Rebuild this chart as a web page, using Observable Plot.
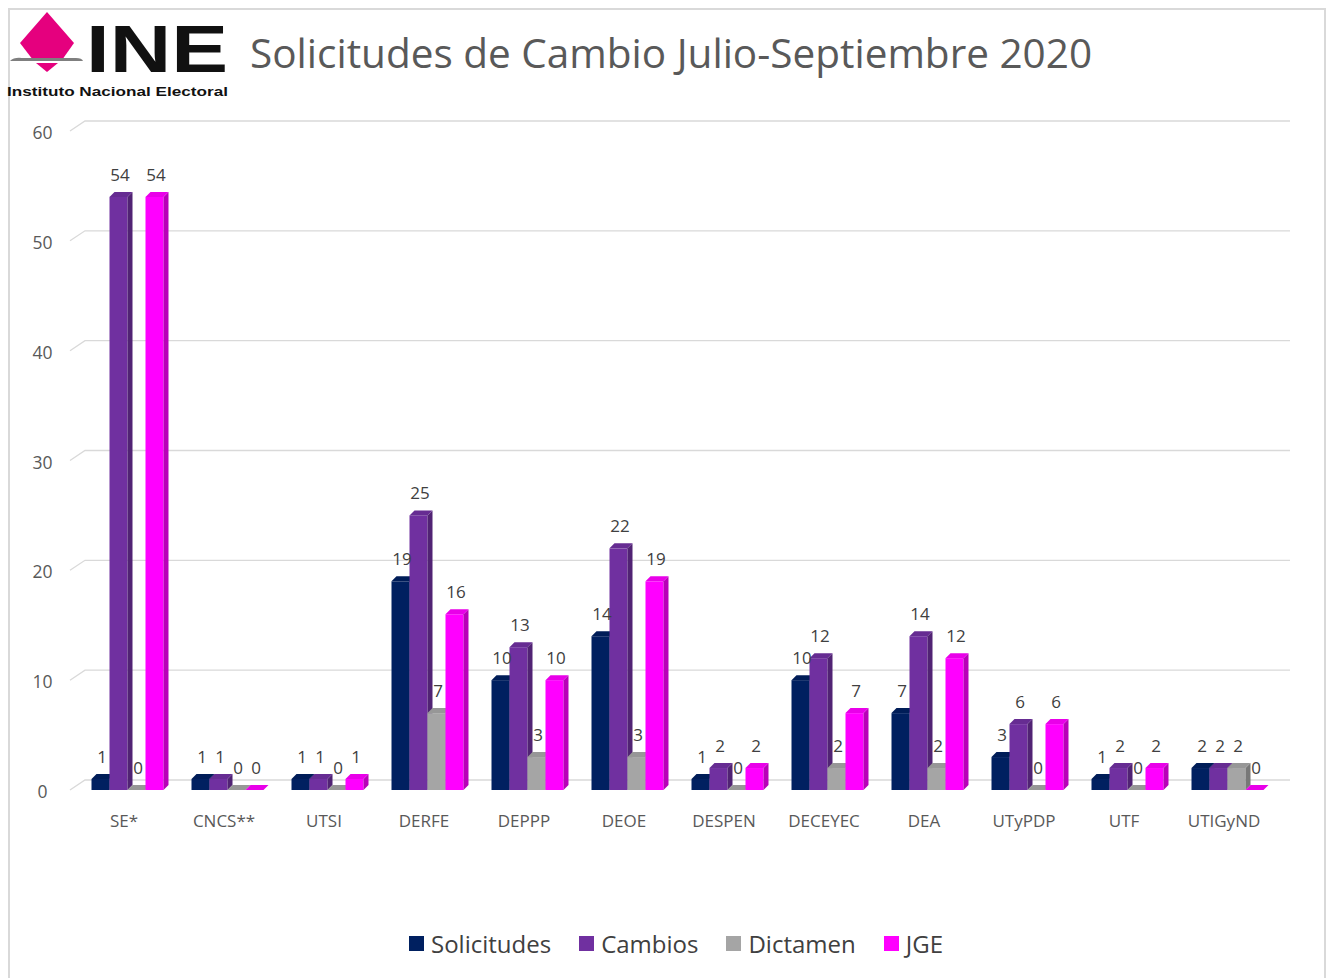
<!DOCTYPE html>
<html>
<head>
<meta charset="utf-8">
<script src="https://cdn.jsdelivr.net/npm/d3@7"></script>
<script src="https://cdn.jsdelivr.net/npm/@observablehq/plot@0.6"></script>
<style>
  html, body { margin: 0; padding: 0; background: #fff; }
  #page { position: relative; width: 1331px; height: 978px; overflow: hidden; font-family: "Open Sans", sans-serif; }
  #frame { position: absolute; left: 8px; top: 8px; width: 1318px; height: 975px; border: 2px solid #d9d9d9; box-sizing: border-box; }
  #title { position: absolute; left: 250px; top: 25px; font-size: 40.5px; color: #595959; white-space: nowrap; }
  #logo { position: absolute; left: 0; top: 0; }
  #chart { position: absolute; left: 0; top: 100px; }
  #legend { position: absolute; top: 927px; left: 0; width: 1352px; display: flex; justify-content: center; gap: 28px; font-size: 24px; color: #404040; }
  #legend .item { display: flex; align-items: center; gap: 7px; }
  #legend .sw { width: 15px; height: 15px; display: inline-block; }
</style>
</head>
<body>
<div id="page">
  <div id="frame"></div>
  <svg id="logo" width="240" height="100" viewBox="0 0 240 100">
    <polygon points="47,12 74,43 62,60 33,60 20,43" fill="#E5007E"/>
    <polygon points="36,63 58,63 47,72" fill="#E5007E"/>
    <path d="M10,61 Q14,57 22,58 L76,58 Q82,58 83,61 Z" fill="#7f7f7f"/>
    <text x="86" y="72" font-family="Liberation Sans, Arial, sans-serif" font-weight="bold" font-size="56" fill="#111" textLength="142" lengthAdjust="spacingAndGlyphs" transform="translate(0,-13) scale(1,1.18)">INE</text>
    <text x="7" y="96" font-family="Liberation Sans, Arial, sans-serif" font-weight="bold" font-size="13.5" fill="#111" textLength="221" lengthAdjust="spacingAndGlyphs">Instituto Nacional Electoral</text>
  </svg>
  <div id="title">Solicitudes de Cambio Julio-Septiembre 2020</div>
  <div id="chart"></div>
  <div id="legend"></div>
</div>
<script>
const categories = ["SE*", "CNCS**", "UTSI", "DERFE", "DEPPP", "DEOE", "DESPEN", "DECEYEC", "DEA", "UTyPDP", "UTF", "UTIGyND"];
const seriesNames = ["Solicitudes", "Cambios", "Dictamen", "JGE"];
const seriesColors = ["#002060", "#7030A0", "#A5A5A5", "#FF00FF"];
const solicitudes = [1, 1, 1, 19, 10, 14, 1, 10, 7, 3, 1, 2];
const cambios     = [54, 1, 1, 25, 13, 22, 2, 12, 14, 6, 2, 2];
const dictamen    = [0, 0, 0, 7, 3, 3, 0, 2, 2, 0, 0, 2];
const jge         = [54, 0, 1, 16, 10, 19, 2, 7, 12, 6, 2, 0];
const yTicks = [0, 10, 20, 30, 40, 50, 60];

const seriesValues = [solicitudes, cambios, dictamen, jge];
const data = [];
categories.forEach((c, i) => {
  seriesNames.forEach((s, j) => data.push({cat: c, series: s, value: seriesValues[j][i]}));
});

const DX = 5, DY = -5;
const ns = "http://www.w3.org/2000/svg";

function bars3d(index, scales, values, dimensions, context, next) {
  const g = next(index, scales, values, dimensions, context);
  for (const r of Array.from(g.querySelectorAll("rect"))) {
    const x = +r.getAttribute("x"), y = +r.getAttribute("y");
    const w = +r.getAttribute("width"), h = +r.getAttribute("height");
    const fill = r.getAttribute("fill");
    const side = document.createElementNS(ns, "polygon");
    side.setAttribute("points", `${x+w},${y} ${x+w+DX},${y+DY} ${x+w+DX},${y+h+DY} ${x+w},${y+h}`);
    side.setAttribute("fill", d3.color(fill).darker(0.9).formatHex());
    const top = document.createElementNS(ns, "polygon");
    top.setAttribute("points", `${x},${y} ${x+DX},${y+DY} ${x+w+DX},${y+DY} ${x+w},${y}`);
    top.setAttribute("fill", d3.color(fill).darker(0.25).formatHex());
    r.after(side, top);
  }
  return g;
}

function grid3d(index, scales, values, dimensions) {
  const g = document.createElementNS(ns, "g");
  const x0 = 70, x1 = 85, x2 = dimensions.width - 41;
  for (const t of yTicks) {
    const y = scales.y(t);
    const p = document.createElementNS(ns, "path");
    p.setAttribute("d", `M${x0},${y} L${x1},${y - 10} L${x2},${y - 10}`);
    p.setAttribute("fill", "none");
    p.setAttribute("stroke", "#d9d9d9");
    p.setAttribute("stroke-width", 1.3);
    g.appendChild(p);
  }
  return g;
}

const chart = Plot.plot({
  width: 1331,
  height: 760,
  marginTop: 31,
  marginBottom: 70,
  marginLeft: 77.5,
  marginRight: 53.5,
  style: {background: "transparent", fontFamily: "Open Sans, sans-serif"},
  fx: {domain: categories, paddingInner: 0.27, paddingOuter: 0.135, label: null, axis: null},
  x: {domain: seriesNames, padding: 0, axis: null},
  y: {domain: [0, 60], axis: null},
  color: {domain: seriesNames, range: seriesColors},
  marks: [
    Plot.frame({facet: "super", stroke: "none", render: grid3d}),
    Plot.axisY({ticks: yTicks, tickSize: 0, tickPadding: 49, textAnchor: "middle", fontSize: 17.5, fill: "#595959", label: null, dy: 2}),
    Plot.axisFx({domain: categories, anchor: "bottom", tickSize: 0, tickPadding: 24, fontSize: 17, fill: "#595959", label: null, dx: -4}),
    Plot.barY(data, {fx: "cat", x: "series", y: "value", fill: "series", render: bars3d}),
    Plot.text(data, {fx: "cat", x: "series", y: "value", text: d => String(d.value), dy: -22, dx: 1, fontSize: 17, fill: "#404040"})
  ]
});
document.getElementById("chart").appendChild(chart);

const legend = document.getElementById("legend");
seriesNames.forEach((s, i) => {
  const item = document.createElement("div");
  item.className = "item";
  item.innerHTML = `<span class="sw" style="background:${seriesColors[i]}"></span><span>${s}</span>`;
  legend.appendChild(item);
});
</script>
</body>
</html>
